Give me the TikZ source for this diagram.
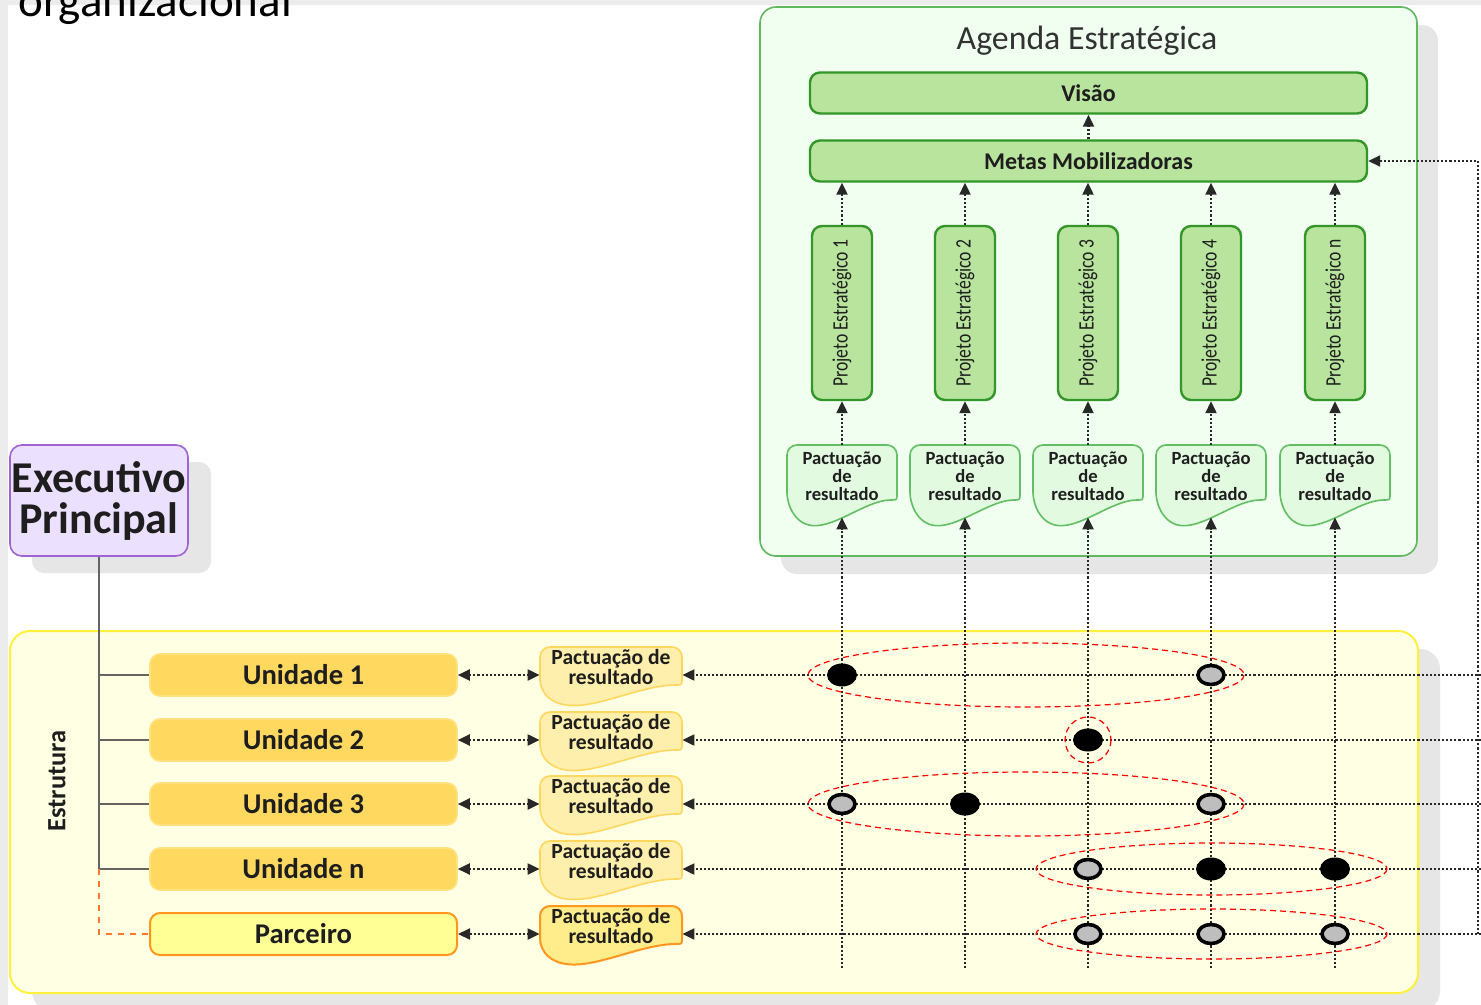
\documentclass[tikz,border=0pt]{standalone}
\usepackage{fontspec}
\usepackage{graphicx}
\setmainfont{Carlito}
\usetikzlibrary{arrows.meta,shapes.geometric}

\definecolor{agendafill}{RGB}{240,255,240}
\definecolor{agendadraw}{RGB}{95,185,95}
\definecolor{greenfill}{RGB}{185,228,158}
\definecolor{greendraw}{RGB}{50,150,40}
\definecolor{pgfill}{RGB}{226,250,224}
\definecolor{pgdraw}{RGB}{100,190,100}
\definecolor{estfill}{RGB}{255,255,228}
\definecolor{estdraw}{RGB}{255,240,60}
\definecolor{unitfill}{RGB}{255,217,95}
\definecolor{unitdraw}{RGB}{255,226,125}
\definecolor{parcfill}{RGB}{255,255,150}
\definecolor{parcdraw}{RGB}{255,150,30}
\definecolor{pyfill}{RGB}{255,239,172}
\definecolor{pydraw}{RGB}{255,215,95}
\definecolor{pypfill}{RGB}{255,237,140}
\definecolor{execfill}{RGB}{236,224,255}
\definecolor{execdraw}{RGB}{160,100,210}
\definecolor{shadowc}{RGB}{230,230,230}
\definecolor{slidegray}{RGB}{236,236,236}
\definecolor{linec}{RGB}{40,40,40}
\definecolor{branchc}{RGB}{100,100,100}
\definecolor{partnerline}{RGB}{255,120,40}
\definecolor{textc}{RGB}{30,30,30}
\definecolor{dotgray}{RGB}{190,190,190}

% document-shaped outline: straight top and sides, sagging wavy bottom
% #1 style, #2 left, #3 top, #4 right, #5 bottom-left end, #6 sag, #7 rise of the right end
\newcommand\docoutline[7]{%
  \draw[#1] ({#4},{(#5)-(#7)-6}) [rounded corners=5pt] -- ({#4},{#3}) -- ({#2},{#3}) -- ({#2},{#5}) [sharp corners]
    .. controls ({(#2)+0.25*((#4)-(#2))},{(#5)+(#6)}) and ({(#4)-0.35*((#4)-(#2))},{(#5)-(#7)}) .. ({(#4)-6},{(#5)-(#7)})
    .. controls ({#4},{(#5)-(#7)}) .. ({#4},{(#5)-(#7)-6}) -- cycle;}

\begin{document}
\begin{tikzpicture}[x=0.5pt,y=-0.5pt,
  every node/.style={text=textc, inner sep=0pt},
  flow/.style={densely dotted, line width=1.05pt, draw=linec, -{Triangle[length=6pt,width=5.5pt]}},
  flowboth/.style={densely dotted, line width=1.05pt, draw=linec, {Triangle[length=6pt,width=5.5pt]}-{Triangle[length=6pt,width=5.5pt]}},
  topbox/.style={draw=greendraw, fill=greenfill, line width=1.2pt, rounded corners=5pt,
    minimum width=278.5pt, minimum height=20.5pt, font=\bfseries\fontsize{12}{14}\selectfont},
  projbox/.style={draw=greendraw, fill=greenfill, line width=1.2pt, rounded corners=5pt,
    minimum width=30pt, minimum height=87pt, font=\fontsize{11}{13}\selectfont},
  pgtext/.style={align=center, font=\bfseries\fontsize{9.3}{9}\selectfont},
  pgshape/.style={fill=pgfill, draw=pgdraw, line width=0.8pt},
  pytext/.style={align=center, font=\bfseries\fontsize{10.8}{10}\selectfont},
  pyshape/.style={fill=pyfill, draw=pydraw, line width=0.8pt},
  pypshape/.style={fill=pypfill, draw=parcdraw, line width=1pt},
  unitbox/.style={draw=unitdraw, fill=unitfill, line width=0.8pt, rounded corners=5pt,
    minimum width=153.5pt, minimum height=21pt, font=\bfseries\fontsize{14.3}{16}\selectfont},
  partbox/.style={unitbox, draw=parcdraw, fill=parcfill, line width=1pt},
  fulldot/.style={ellipse, fill=black, minimum width=15pt, minimum height=11.5pt},
  halfdot/.style={ellipse, fill=dotgray, draw=black, line width=1.8pt, minimum width=13pt, minimum height=9.5pt},
  group/.style={red, densely dashed, line width=0.6pt}
]
\useasboundingbox (0,0) rectangle (1481,1005);

% slide background
\fill[white] (0,0) rectangle (1481,1005);
\fill[slidegray] (0,0) rectangle (8,1005);
\fill[slidegray] (0,0) rectangle (1481,5);
\node[anchor=base west, font=\fontsize{23.5}{28}\selectfont, text=black] (ttl) at (18,17) {organizacional};

% shadows
\fill[shadowc, rounded corners=8pt] (781,25) rectangle (1438,574);
\fill[shadowc, rounded corners=10pt] (32,649) rectangle (1440,1011);
\fill[shadowc, rounded corners=6pt] (32,462) rectangle (211,573);

% containers
\node[draw=agendadraw, fill=agendafill, line width=0.8pt, rounded corners=8pt,
  minimum width=328.5pt, minimum height=274.5pt] (agenda) at (1088.5,281.5) {};
\node[font=\fontsize{16.9}{20}\selectfont, text={rgb,255:red,50;green,50;blue,50}] (agtitle) at (1087,41) {Agenda Estratégica};

\node[draw=estdraw, fill=estfill, line width=1pt, rounded corners=10pt,
  minimum width=704pt, minimum height=181pt] (estrutura) at (714,812) {};
\node[font=\bfseries\fontsize{13.2}{15}\selectfont] (esttitle) at (57,781) {\rotatebox{90}{Estrutura}};

\node[draw=execdraw, fill=execfill, line width=0.8pt, rounded corners=6pt,
  minimum width=89pt, minimum height=55.5pt, align=center,
  font=\bfseries\fontsize{22}{20.5}\selectfont] (exec) at (99,500.5) {Executivo\\Principal};

% strategic agenda
\node[topbox] (visao) at (1088.5,93) {Visão};
\node[topbox] (metas) at (1088.5,161) {Metas Mobilizadoras};
\draw[flow] (metas.north) -- (visao.south);

\foreach \c/\i/\lbl in {842/1/1,965/2/2,1088/3/3,1211/4/4,1335/5/n}{
  \node[projbox] (pr\i) at (\c,313) {\rotatebox{90}{\scalebox{0.8}[1]{Projeto Estratégico \lbl}}};
  \docoutline{pgshape}{\c-55}{445}{\c+55}{503}{46}{3}
  \node[minimum width=55pt, minimum height=36pt] (pg\i) at (\c,481) {};
  \node[pgtext] (pgt\i) at (\c,476) {Pactuação\\de\\resultado};
  \coordinate (bot\i) at (\c,968);
  \draw[flow] (pg\i.north) -- (pr\i.south);
  \draw[flow] (pr\i.north) -- (pr\i.north |- metas.south);
}

% organisational structure
\foreach \y/\i/\lbl/\ub/\ps in {675/1/Unidade 1/unitbox/pyshape,740/2/Unidade 2/unitbox/pyshape,
    804/3/Unidade 3/unitbox/pyshape,869/4/Unidade n/unitbox/pyshape,934/5/Parceiro/partbox/pypshape}{
  \node[\ub] (u\i) at (303.5,\y) {\lbl};
  \docoutline{\ps}{540}{\y-28}{682}{\y+15}{32}{5}
  \node[minimum width=71pt, minimum height=28pt] (py\i) at (611,\y) {};
  \node[pytext] (pyt\i) at (611,\y-8) {Pactuação de\\resultado};
  \coordinate (re\i) at (1481,\y);
  \draw[flowboth] (u\i.east) -- (py\i.west);
  \draw[flow] (re\i) -- (py\i.east);
}

% reporting lines
\draw[branchc, line width=1pt] (exec.south) |- (u4.west);
\foreach \i in {1,2,3}{\draw[branchc, line width=1pt] (exec.south |- u\i.west) -- (u\i.west);}
\draw[partnerline, dashed, line width=1pt] (exec.south |- u4.west) |- (u5.west);

% contribution lines up to the agreements
\foreach \i in {1,...,5}{\draw[flow] (bot\i) -- (pg\i.south);}

% feedback to the mobilising goals
\coordinate (fb) at (1478,934);
\draw[flow] (fb) |- (metas.east);

% contribution groups
\draw[group] (1026,675) ellipse (218 and 32);
\draw[group] (1088,740) circle (23);
\draw[group] (1026,804) ellipse (218 and 32);
\draw[group] (1211.5,869) ellipse (175.5 and 26);
\draw[group] (1211.5,934) ellipse (175.5 and 25);

% contributions of each unit to each project
\node[fulldot] (d11) at (842,675) {};
\node[halfdot] (d14) at (1211,675) {};
\node[fulldot] (d23) at (1088,740) {};
\node[halfdot] (d31) at (842,804) {};
\node[fulldot] (d32) at (965,804) {};
\node[halfdot] (d34) at (1211,804) {};
\node[halfdot] (d43) at (1088,869) {};
\node[fulldot] (d44) at (1211,869) {};
\node[fulldot] (d45) at (1335,869) {};
\node[halfdot] (d53) at (1088,934) {};
\node[halfdot] (d54) at (1211,934) {};
\node[halfdot] (d55) at (1335,934) {};
\end{tikzpicture}
\end{document}
